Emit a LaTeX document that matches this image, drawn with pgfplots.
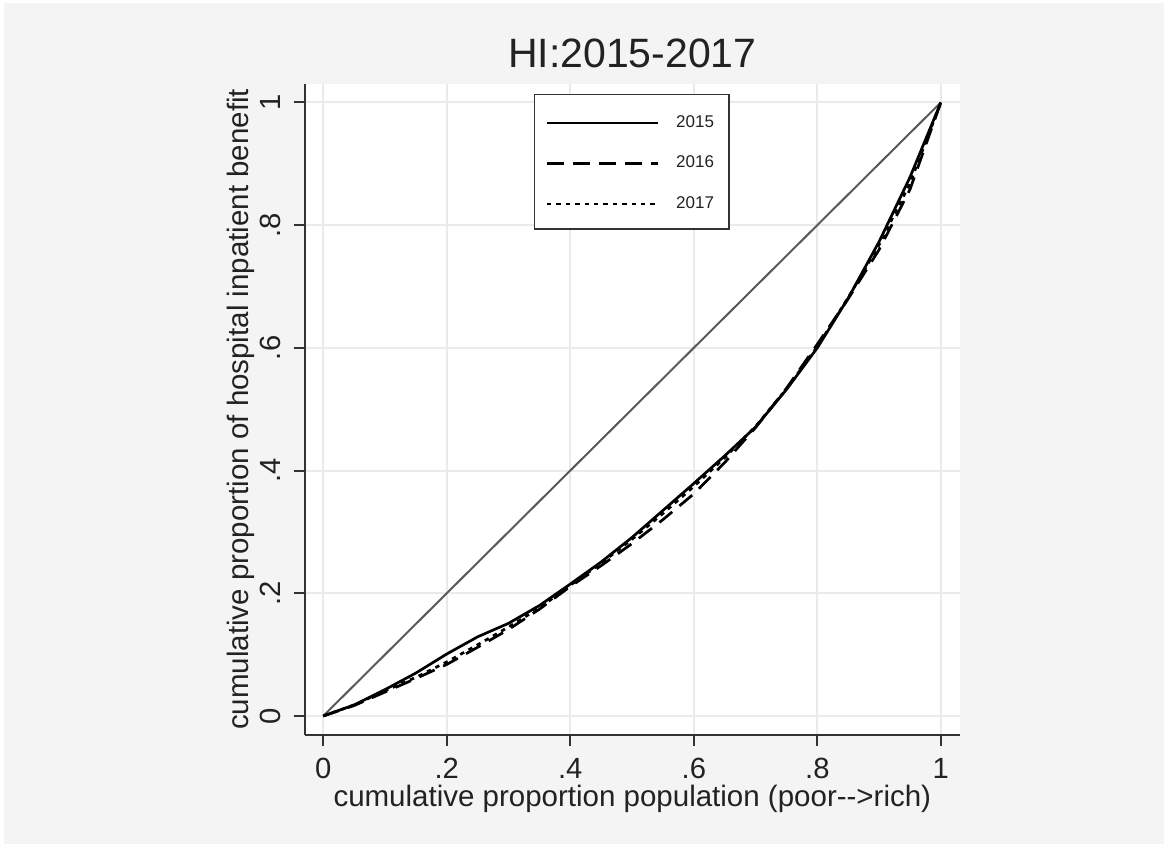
\documentclass[border=0pt]{standalone}
\usepackage{pgfplots}
\pgfplotsset{compat=1.18}
\usepackage{fontspec}
\setmainfont{Liberation Sans}

\definecolor{bggray}{HTML}{F4F4F4}
\definecolor{gridgray}{HTML}{EAEAEA}
\definecolor{axisdark}{HTML}{333333}
\definecolor{diaggray}{HTML}{595959}
\definecolor{txt}{HTML}{222222}

% concentration curves: cumulative population share vs cumulative benefit share
\pgfplotstableread{
x     y
0.00  0.000
0.05  0.018
0.10  0.043
0.15  0.070
0.20  0.101
0.25  0.129
0.30  0.151
0.35  0.180
0.40  0.215
0.45  0.251
0.50  0.291
0.55  0.335
0.60  0.379
0.65  0.424
0.70  0.471
0.75  0.532
0.80  0.600
0.85  0.681
0.90  0.773
0.95  0.878
1.00  1.000
}\yrA
\pgfplotstableread{
x     y
0.00  0.000
0.05  0.017
0.10  0.039
0.15  0.061
0.20  0.084
0.25  0.112
0.30  0.141
0.35  0.174
0.40  0.211
0.45  0.245
0.50  0.281
0.55  0.320
0.60  0.362
0.65  0.413
0.70  0.470
0.75  0.534
0.80  0.606
0.85  0.680
0.90  0.760
0.95  0.858
1.00  1.000
}\yrB
\pgfplotstableread{
x     y
0.00  0.000
0.05  0.018
0.10  0.041
0.15  0.063
0.20  0.088
0.25  0.116
0.30  0.145
0.35  0.176
0.40  0.213
0.45  0.249
0.50  0.288
0.55  0.330
0.60  0.374
0.65  0.421
0.70  0.472
0.75  0.533
0.80  0.602
0.85  0.682
0.90  0.768
0.95  0.868
1.00  1.000
}\yrC

\begin{document}
\begin{tikzpicture}
\fill[white] (0,0) rectangle (584pt,423.5pt);
\fill[bggray] (2pt,1.5pt) rectangle (582pt,422pt);
\begin{axis}[
  at={(152.35pt,56.15pt)}, anchor=south west,
  scale only axis,
  width=327.65pt, height=325.35pt,
  xmin=-0.030, xmax=1.031,
  ymin=-0.0305, ymax=1.030,
  axis background/.style={fill=white},
  axis lines*=left,
  axis line style={axisdark, line width=1pt},
  tick align=outside,
  major tick length=5.5pt,
  tick style={axisdark, line width=1pt},
  xtick={0,0.2,0.4,0.6,0.8,1},
  ytick={0,0.2,0.4,0.6,0.8,1},
  xticklabels={0,.2,.4,.6,.8,1},
  yticklabels={0,.2,.4,.6,.8,1},
  grid=major,
  grid style={gridgray, line width=1pt},
  ticklabel style={font=\fontsize{14.6}{16}\selectfont, text=txt},
  xticklabel style={anchor=base, yshift=-16.3pt},
  yticklabel style={xshift=-6.5pt, rotate=90, anchor=base},
  every axis title/.style={at={(axis description cs:0.5,1)}, anchor=base, yshift=8pt,
    font=\fontsize{20.5}{23}\selectfont, text=txt},
  title={HI:2015-2017},
  every axis x label/.style={at={(axis description cs:0.5,0)}, anchor=base, yshift=-36pt,
    font=\fontsize{14.75}{17}\selectfont, text=txt},
  every axis y label/.style={at={(axis description cs:0,0.5)}, xshift=-28.2pt, rotate=90, anchor=base,
    font=\fontsize{14.75}{17}\selectfont, text=txt},
  xlabel={cumulative proportion population (poor-{}-{}>rich)},
  ylabel={cumulative proportion of hospital inpatient benefit},
  legend style={at={(0.35,0.985)}, anchor=north west,
    draw=axisdark, line width=0.7pt, fill=white,
    font=\fontsize{8.5}{10}\selectfont, text=txt,
    inner xsep=5.5pt, inner ysep=10.3pt,
    nodes={inner sep=0pt, text height=6.2pt, text depth=0pt},
    row sep=14pt, column sep=8.5pt},
  legend cell align=left,
  legend image code/.code={\draw[#1, line width=1.2pt] (0pt,-0.9pt) -- (55.5pt,-0.9pt);},
]
\addplot[diaggray, line width=1pt, forget plot] coordinates {(0,0) (1,1)};
\addplot[black, line width=1.35pt] table[x=x, y=y] {\yrA};
\addlegendentry{2015\hspace*{2pt}}
\addplot[black, line width=1.35pt, dash pattern=on 8.3pt off 4.7pt] table[x=x, y=y] {\yrB};
\addlegendentry{2016\hspace*{2pt}}
\addplot[black, line width=1.35pt, dash pattern=on 2.2pt off 2.5pt] table[x=x, y=y] {\yrC};
\addlegendentry{2017\hspace*{2pt}}
\end{axis}
\end{tikzpicture}
\end{document}
